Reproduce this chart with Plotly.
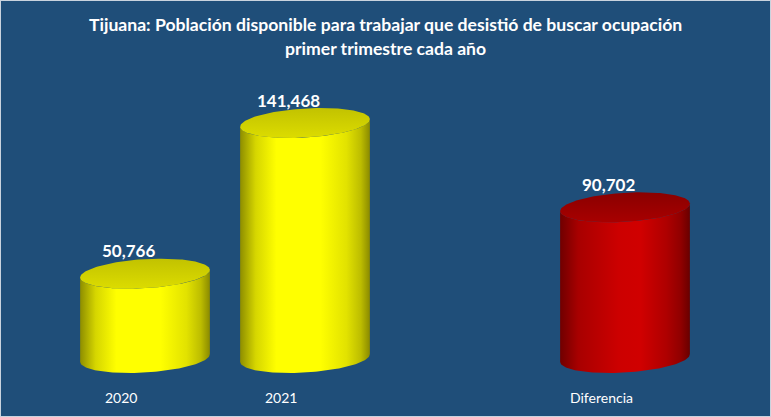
import numpy as np
import plotly.graph_objects as go

# ---- data ----
categories = ["2020", "2021", "Diferencia"]
values = [50766, 141468, 90702]
value_labels = ["50,766", "141,468", "90,702"]
title_lines = [
    "Tijuana: Población disponible para trabajar que desistió de buscar ocupación",
    "primer trimestre cada año",
]

# ---- styles ----
BG = "#1F4E79"
W, H = 771, 417
X_STEP_PX = 160.0      # pixels per category slot
X0_PX = 145.0          # pixel of first slot
UNITS_PER_PX = 602.0   # value units per vertical pixel
ZERO_PX = 59.0         # pixels of baseline above bottom
A_PX, B_PX = 65.0, 14.5
TILT = np.deg2rad(3.5)
FONT = "Lato"

body_scales = {
    "yellow": [[0, "#8E8E00"], [0.12, "#D6D600"], [0.28, "#FFFF00"], [0.62, "#FFFF00"],
               [0.82, "#E2E200"], [0.93, "#BDBD00"], [1, "#8A8A00"]],
    "red": [[0, "#700000"], [0.14, "#A80000"], [0.45, "#CC0000"], [0.62, "#D00000"],
            [0.82, "#AE0000"], [0.93, "#900000"], [1, "#680000"]],
}
cap_scales = {
    "yellow": [[0, "#DCDC00"], [1, "#C2C200"]],
    "red": [[0, "#A80000"], [1, "#8A0000"]],
}
colors = ["yellow" if c != "Diferencia" else "red" for c in categories]

x_range = [-X0_PX / X_STEP_PX, (W - X0_PX) / X_STEP_PX]
y_range = [-ZERO_PX * UNITS_PER_PX, (H - ZERO_PX) * UNITS_PER_PX]

slots = []
gap = 0
for i, c in enumerate(categories):
    if c == "Diferencia":
        gap = 1
    slots.append(i + gap)


def ellipse(cx, cy, t):
    dx = A_PX * np.cos(t) * np.cos(TILT) - B_PX * np.sin(t) * np.sin(TILT)
    dy = A_PX * np.cos(t) * np.sin(TILT) + B_PX * np.sin(t) * np.cos(TILT)
    return cx + dx / X_STEP_PX, cy + dy * UNITS_PER_PX


fig = go.Figure()
for s, v, col in zip(slots, values, colors):
    # body: lower half of bottom ellipse, then lower half of top ellipse reversed
    t1 = np.linspace(np.pi, 2 * np.pi, 80)
    bx, by = ellipse(s, 0, t1)
    t2 = np.linspace(2 * np.pi, np.pi, 80)
    tx, ty = ellipse(s, v, t2)
    xs = np.concatenate([bx, tx, bx[:1]])
    ys = np.concatenate([by, ty, by[:1]])
    fig.add_trace(go.Scatter(
        x=xs, y=ys, mode="lines", fill="toself", line=dict(width=0, color=BG),
        fillgradient=dict(type="horizontal", colorscale=body_scales[col]),
        hoverinfo="skip", showlegend=False))
    # top cap
    t3 = np.linspace(0, 2 * np.pi, 160)
    cx_, cy_ = ellipse(s, v, t3)
    fig.add_trace(go.Scatter(
        x=cx_, y=cy_, mode="lines", fill="toself", line=dict(width=0, color=BG),
        fillgradient=dict(type="vertical", colorscale=cap_scales[col]),
        hoverinfo="skip", showlegend=False))

# value labels
for s, v, lab in zip(slots, values, value_labels):
    fig.add_annotation(x=s, y=v, text=f"<b>{lab}</b>", showarrow=False,
                       xanchor="center", yanchor="middle", xshift=-17, yshift=23,
                       font=dict(family=FONT, size=17, color="white"))
# category labels
for s, c in zip(slots, categories):
    fig.add_annotation(x=s, y=0, text=c, showarrow=False,
                       xanchor="center", yanchor="middle", xshift=-24, yshift=-39,
                       font=dict(family=FONT, size=14, color="white"))
# title
for i, line in enumerate(title_lines):
    fig.add_annotation(x=0.5, y=1, xref="paper", yref="paper", text=f"<b>{line}</b>",
                       showarrow=False, xanchor="center", yanchor="middle",
                       yshift=-24 - 24 * i,
                       font=dict(family=FONT, size=17.6, color="white"))

fig.add_shape(type="rect", xref="paper", yref="paper", x0=0, y0=0, x1=1, y1=1,
              line=dict(color="#C9D3DE", width=2), layer="above")

fig.update_layout(
    width=W, height=H, margin=dict(l=0, r=0, t=0, b=0),
    paper_bgcolor=BG, plot_bgcolor=BG, showlegend=False,
    xaxis=dict(range=x_range, visible=False, fixedrange=True),
    yaxis=dict(range=y_range, visible=False, fixedrange=True),
)
fig.write_html("out.html", config={"displayModeBar": False},
               post_script="document.body.style.margin='0';document.body.style.overflow='hidden';")
